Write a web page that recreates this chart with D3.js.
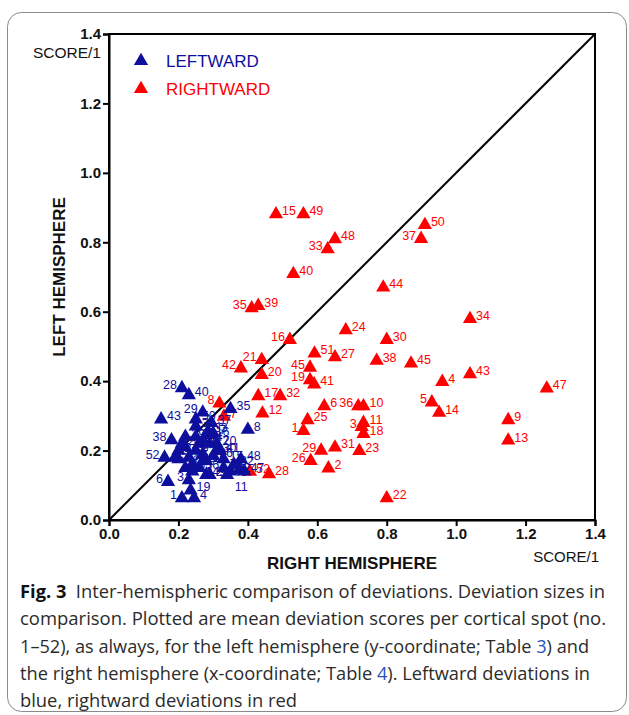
<!DOCTYPE html>
<html>
<head>
<meta charset="utf-8">
<script src="https://cdn.jsdelivr.net/npm/d3@7.9.0/dist/d3.min.js"></script>
<style>
  body { margin: 0; background: #fff; }
  svg { display: block; }
</style>
</head>
<body>
<svg width="629" height="715"></svg>
<script>
// values (x = right hemisphere, y = left hemisphere)
const tickValues = [0, 0.2, 0.4, 0.6, 0.8, 1.0, 1.2, 1.4];

const redLabels = ['1','2','3','4','5','6','7','8','9','10','11','12','13','14','15','16','17','18','19','20','21','22','23','24','25','26',
  '27','28','29','30','31','32','33','34','35','36','37','38','39','40','41','42','43','44','45','45','47','48','49','50','51','52'];
const redX = [0.560, 0.632, 0.728, 0.960, 0.930, 0.620, 0.331, 0.318, 1.150, 0.733, 0.733, 0.442, 1.150, 0.951, 0.481, 0.521, 0.430, 0.733,
  0.579, 0.440, 0.440, 0.800, 0.721, 0.682, 0.572, 0.581, 0.651, 0.461, 0.611, 0.800, 0.651, 0.493, 0.630, 1.040, 0.411, 0.718, 0.899, 0.771,
  0.430, 0.531, 0.591, 0.380, 1.040, 0.790, 0.870, 0.579, 1.261, 0.651, 0.560, 0.910, 0.592, 0.406];
const redY = [0.257, 0.149, 0.268, 0.398, 0.339, 0.328, 0.298, 0.336, 0.288, 0.328, 0.280, 0.307, 0.229, 0.309, 0.881, 0.519, 0.357, 0.248,
  0.403, 0.418, 0.461, 0.063, 0.199, 0.547, 0.288, 0.170, 0.469, 0.132, 0.200, 0.519, 0.209, 0.357, 0.780, 0.579, 0.610, 0.328, 0.810, 0.459,
  0.617, 0.709, 0.391, 0.437, 0.420, 0.670, 0.451, 0.439, 0.379, 0.809, 0.881, 0.850, 0.480, 0.139];
// labels printed on the left of their marker
const redLeft = [1, 3, 5, 8, 16, 19, 21, 26, 29, 33, 35, 36, 37, 42, 46];

const blueLabels = ['1','2','3','4','5','6','7','8','9','10','11','12','13','14','15','16','17','18','19','20','21','22','23','24','25','26',
  '27','28','29','30','31','32','33','34','35','36','37','38','39','40','41','42','43','44','45','46','47','48','49','50','51','52'];
const blueX = [0.210, 0.290, 0.230, 0.245, 0.270, 0.170, 0.300, 0.400, 0.250, 0.260, 0.375, 0.280, 0.240, 0.330, 0.330, 0.290, 0.290, 0.220,
  0.235, 0.310, 0.250, 0.350, 0.270, 0.200, 0.230, 0.300, 0.210, 0.210, 0.270, 0.310, 0.240, 0.360, 0.285, 0.250, 0.350, 0.260, 0.295, 0.180,
  0.220, 0.230, 0.320, 0.200, 0.150, 0.270, 0.220, 0.340, 0.390, 0.380, 0.280, 0.250, 0.190, 0.160];
const blueY = [0.063, 0.130, 0.115, 0.063, 0.170, 0.110, 0.250, 0.260, 0.200, 0.220, 0.145, 0.170, 0.140, 0.150, 0.175, 0.245, 0.220, 0.210,
  0.085, 0.220, 0.240, 0.140, 0.190, 0.200, 0.180, 0.185, 0.220, 0.380, 0.310, 0.200, 0.160, 0.160, 0.255, 0.270, 0.320, 0.150, 0.280, 0.230,
  0.240, 0.360, 0.200, 0.175, 0.290, 0.230, 0.150, 0.130, 0.140, 0.175, 0.130, 0.290, 0.180, 0.180];
const blueLeft = [1, 3, 6, 28, 29, 38, 52];
const blueBelow = [11];

const captionLines = [
  'Inter-hemispheric comparison of deviations. Deviation sizes in',
  'comparison. Plotted are mean deviation scores per cortical spot (no.',
  '1–52), as always, for the left hemisphere (y-coordinate; Table 3) and',
  'the right hemisphere (x-coordinate; Table 4). Leftward deviations in',
  'blue, rightward deviations in red'
];

const BLUE = '#0f0f9e', RED = '#ff0000';
const svg = d3.select('svg');
const axisFont = '"Liberation Sans", Arial, sans-serif';

// outer rounded box
svg.append('rect')
  .attr('x', 7.5).attr('y', 12.5).attr('width', 619).attr('height', 699)
  .attr('rx', 14).attr('fill', '#fff').attr('stroke', '#8a8a8a');

const x = d3.scaleLinear().domain([0, 1.4]).range([109, 595]);
const y = d3.scaleLinear().domain([0, 1.4]).range([520, 34]);

const xAxis = svg.append('g').attr('transform', `translate(0,${y(0)})`)
  .call(d3.axisBottom(x).tickValues(tickValues).tickFormat(d3.format('.1f')).tickSize(6).tickPadding(2));
const yAxis = svg.append('g').attr('transform', `translate(${x(0)},0)`)
  .call(d3.axisLeft(y).tickValues(tickValues).tickFormat(d3.format('.1f')).tickSize(6).tickPadding(2));
[xAxis, yAxis].forEach(g => {
  g.selectAll('path, line').attr('stroke', '#000').attr('stroke-width', 2);
  g.selectAll('text').attr('fill', '#111').style('font', `bold 15px ${axisFont}`);
});

// frame and identity line
svg.append('rect')
  .attr('x', x(0)).attr('y', y(1.4)).attr('width', x(1.4) - x(0)).attr('height', y(0) - y(1.4))
  .attr('fill', 'none').attr('stroke', '#000').attr('stroke-width', 2);
svg.append('line')
  .attr('x1', x(0)).attr('y1', y(0)).attr('x2', x(1.4)).attr('y2', y(1.4))
  .attr('stroke', '#000').attr('stroke-width', 2);

// axis titles
svg.append('text').attr('x', 101).attr('y', 58).attr('text-anchor', 'end')
  .style('font', `15.5px ${axisFont}`).attr('fill', '#111').text('SCORE/1');
svg.append('text').attr('x', 599).attr('y', 562).attr('text-anchor', 'end')
  .style('font', `15px ${axisFont}`).attr('fill', '#111').text('SCORE/1');
svg.append('text').attr('x', (x(0) + x(1.4)) / 2).attr('y', 569).attr('text-anchor', 'middle')
  .style('font', `bold 17px ${axisFont}`).attr('fill', '#111').text('RIGHT HEMISPHERE');
svg.append('text').attr('transform', `translate(65,${(y(0) + y(1.4)) / 2}) rotate(-90)`)
  .attr('text-anchor', 'middle')
  .style('font', `bold 17px ${axisFont}`).attr('fill', '#111').text('LEFT HEMISPHERE');

const tri = d3.symbol().type(d3.symbolTriangle).size(88);

function drawSeries(labels, xs, ys, color, leftList, belowList) {
  const data = labels.map((l, i) => ({ label: l, x: xs[i], y: ys[i], i: i + 1 }));
  const g = svg.append('g');
  g.selectAll('path').data(data).join('path')
    .attr('d', tri)
    .attr('transform', d => `translate(${x(d.x)},${y(d.y)})`)
    .attr('fill', color);
  g.selectAll('text').data(data).join('text')
    .attr('x', d => leftList.includes(d.i) ? x(d.x) - 5 : belowList.includes(d.i) ? x(d.x) + 2 : x(d.x) + 6)
    .attr('y', d => belowList.includes(d.i) ? y(d.y) + 21 : y(d.y) + 1)
    .attr('text-anchor', d => leftList.includes(d.i) ? 'end' : belowList.includes(d.i) ? 'middle' : 'start')
    .style('font', `12.5px ${axisFont}`)
    .attr('fill', color)
    .text(d => d.label);
}

drawSeries(redLabels, redX, redY, RED, redLeft, []);
drawSeries(blueLabels, blueX, blueY, BLUE, blueLeft, blueBelow);

// legend
const legend = [{ name: 'LEFTWARD', color: BLUE }, { name: 'RIGHTWARD', color: RED }];
legend.forEach((d, i) => {
  svg.append('path').attr('d', tri).attr('fill', d.color)
    .attr('transform', `translate(141,${61 + i * 28})`);
  svg.append('text').attr('x', 166).attr('y', 66.5 + i * 28)
    .style('font', `17px ${axisFont}`).attr('fill', d.color).text(d.name);
});

// caption
const capFont = '"Open Sans", "Noto Sans", sans-serif';
const lineWidths = [585, 586, 569, 570, 277];
captionLines.forEach((line, i) => {
  const t = svg.append('text').attr('x', 20).attr('y', 598 + i * 27.3)
    .style('font', `17.5px ${capFont}`).attr('fill', '#2b2b2b')
    .attr('textLength', lineWidths[i]).attr('lengthAdjust', 'spacingAndGlyphs');
  if (i === 0) {
    t.append('tspan').style('font-weight', 'bold').attr('fill', '#111').text('Fig. 3');
    t.append('tspan').attr('dx', 9).text(line);
  } else if (i === 2 || i === 3) {
    const parts = line.split(i === 2 ? 'Table 3' : 'Table 4');
    t.append('tspan').text(parts[0] + 'Table ');
    t.append('tspan').attr('fill', '#2a52be').text(i === 2 ? '3' : '4');
    t.append('tspan').text(parts[1]);
  } else {
    t.text(line);
  }
});
</script>
</body>
</html>
